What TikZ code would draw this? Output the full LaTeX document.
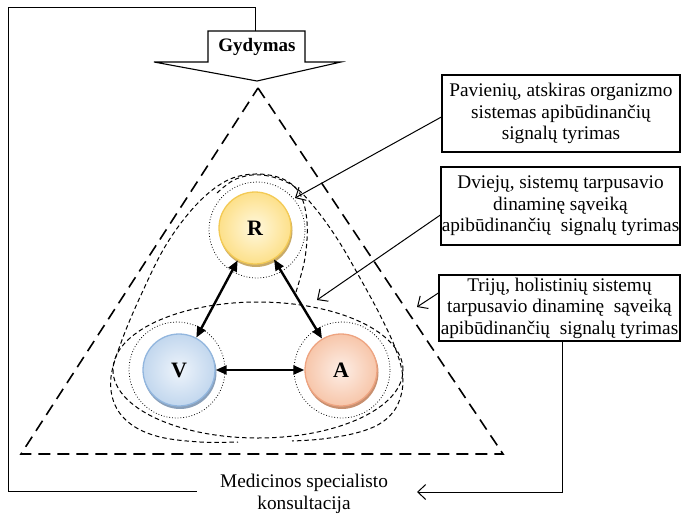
\documentclass[tikz,border=0pt]{standalone}
\usepackage{fontspec}
\setmainfont{Liberation Serif}
\usetikzlibrary{arrows.meta,shapes.geometric,calc}
\definecolor{Rlight}{HTML}{FFF8DE}
\definecolor{Rdark}{HTML}{FDE08A}
\definecolor{Rborder}{HTML}{F3CA55}
\definecolor{Rshadow}{HTML}{C8AA68}
\definecolor{Vlight}{HTML}{EEF4FB}
\definecolor{Vdark}{HTML}{C2D7EE}
\definecolor{Vborder}{HTML}{92B6DE}
\definecolor{Vshadow}{HTML}{8AA0BA}
\definecolor{Alight}{HTML}{FDEEE6}
\definecolor{Adark}{HTML}{F7C6AA}
\definecolor{Aborder}{HTML}{EEA481}
\definecolor{Ashadow}{HTML}{C89070}
\begin{document}
\begin{tikzpicture}[x=1pt,y=-1pt,
  txt/.style={font=\fontsize{19.3}{21.5}\selectfont},
  box/.style={txt, draw, line width=1.3pt, align=center, inner sep=0pt},
  ball/.style={circle, minimum size=72pt, inner sep=0pt, line width=1.3pt,
    font=\fontsize{22}{22}\selectfont\bfseries},
  dotring/.style={circle, draw, dotted, line width=0.8pt, minimum size=96pt, inner sep=0pt},
  pairline/.style={dash pattern=on 4.5pt off 3pt, line width=1pt},
  triline/.style={dash pattern=on 12pt off 7pt, line width=1.6pt},
  conn/.style={line width=1pt},
  openarrow/.style={-{Straight Barb[length=8pt,width=15pt]}},
  bidir/.style={{Triangle[length=11pt,width=9pt]}-{Triangle[length=11pt,width=9pt]}, line width=2.4pt}
]
\useasboundingbox (0,0) rectangle (681,517);

% big dashed triangle
\coordinate (tA) at (258,88);
\coordinate (tL) at (21,454);
\coordinate (tR) at (503,454);
\draw[triline] (tA) -- (tR) -- (tL) -- cycle;

% pair shapes
\node[draw, ellipse, pairline, minimum width=290pt, minimum height=136pt, inner sep=0pt] (VAell) at (258,370) {};
\draw[pairline] plot[smooth, tension=0.6] coordinates {(296,292) (305,258) (307,222) (300,194) (283,179) (255,174) (226,181) (196,205) (166,245) (141,295) (122,340) (111,377) (115,405) (132,425) (160,437) (200,442) (238,442)};
\draw[pairline] plot[smooth, tension=0.6] coordinates {(217,193) (236,179) (262,175) (292,185) (315,208) (338,240) (360,278) (380,315) (396,350) (403,380) (397,406) (381,423) (356,433) (322,439) (292,441)};

% dotted rings
\node[dotring] (Rring) at (257,230) {};
\node[dotring] (Vring) at (177,370) {};
\node[dotring] (Aring) at (342,370) {};

% balls with shadows
\fill[Rshadow] (256,230.5) circle (36.5);
\fill[Vshadow] (180,372.5) circle (36.5);
\fill[Ashadow] (342,372.5) circle (36.5);
\node[ball, draw=Rborder, inner color=Rlight, outer color=Rdark] (R) at (255,228) {R};
\node[ball, draw=Vborder, inner color=Vlight, outer color=Vdark] (V) at (179,370) {V};
\node[ball, draw=Aborder, inner color=Alight, outer color=Adark] (A) at (341,370) {A};

% interaction arrows
\draw[bidir] (R) -- (V);
\draw[bidir] (R) -- (A);
\draw[bidir] (V) -- (A);

% Gydymas block arrow
\draw[line width=1.1pt, fill=white] (208,31) -- (305,31) -- (305,62) -- (341,62) -- (257,81) -- (154,62) -- (208,62) -- cycle;
\node[font=\fontsize{19}{19}\selectfont\bfseries] (gyd) at (257,47) {Gydymas};

% text boxes
\node[box, minimum width=238pt, minimum height=77pt] (box1) at (561,113.5)
  {Pavienių, atskiras organizmo\\sistemas apibūdinančių\\signalų tyrimas};
\node[box, minimum width=239pt, minimum height=78pt] (box2) at (560.5,206)
  {Dviejų, sistemų tarpusavio\\dinaminę sąveiką\\apibūdinančių\ \ signalų tyrimas};
\node[box, minimum width=241pt, minimum height=66pt] (box3) at (559.5,308)
  {Trijų, holistinių sistemų\\tarpusavio dinaminę\ \ sąveiką\\apibūdinančių\ \ signalų tyrimas};

% pointer arrows
\coordinate (p1) at (295,198);
\coordinate (p2) at (317,300);
\coordinate (p3) at (417,307);
\draw[conn, openarrow] ([yshift=-3.5pt]box1.west) -- (p1);
\draw[conn, openarrow] ([yshift=-9pt]box2.west) -- (p2);
\draw[conn, openarrow] ([yshift=15pt]box3.west) -- (p3);

% consultation
\node[txt, align=center] (med) at (304,494) {Medicinos specialisto\\konsultacija};
\coordinate (gtop) at (255,31);
\coordinate (fbA) at (8,7);
\coordinate (fbB) at (8,491);
\coordinate (fbEnd) at (197,491);
\draw[conn] (gtop) |- (fbA) -- (fbB) -- (fbEnd);
\coordinate (b3out) at (562,341);
\coordinate (medin) at (417,492);
\draw[conn, openarrow] (b3out) |- (medin);
\end{tikzpicture}
\end{document}
